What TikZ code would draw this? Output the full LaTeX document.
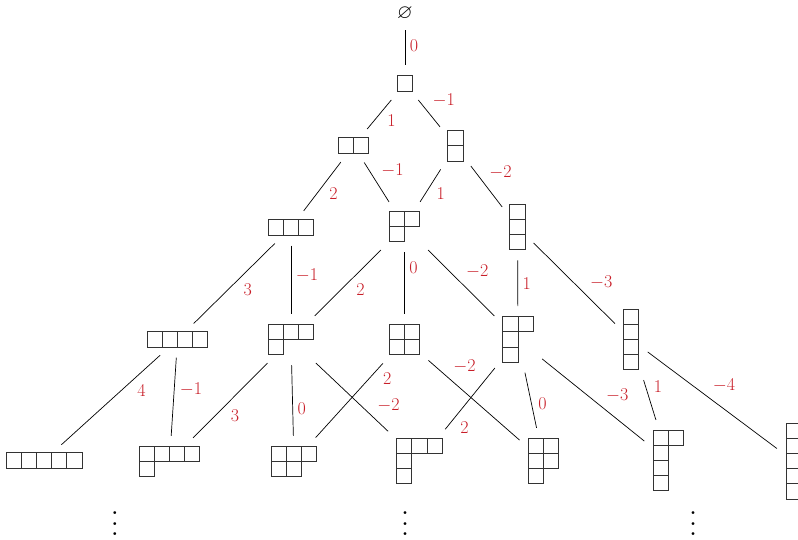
\RequirePackage{fix-cm}
\documentclass[tikz,border=0pt]{standalone}
\usepackage{amsmath,amssymb}
\usepackage{graphicx}
\usepackage{xcolor}
\definecolor{labred}{RGB}{200,30,40}
\newcommand{\yng}[1]{%
  \begin{tikzpicture}[x=15.2pt,y=-15.2pt,line width=1pt,color=black!80]
    \foreach \len [count=\row] in {#1}
      \foreach \col in {1,...,\len}
        \draw (\col-1,\row-1) rectangle (\col,\row);
  \end{tikzpicture}}

\begin{document}
\begin{tikzpicture}[
  x=1pt, y=-1pt,
  yd/.style={inner sep=3pt, outer sep=0pt},
  ln/.style={line width=0.7pt, shorten <=7pt, shorten >=7pt},
  lab/.style={auto, font=\fontsize{18}{21}\selectfont, text=labred, inner sep=4.5pt},
  dts/.style={anchor=north, inner sep=0pt}
]
\useasboundingbox (0,0) rectangle (798,540);

\node[yd, font=\fontsize{20}{24}\selectfont] (e0) at (405,13.5) {$\varnothing$};
\node[yd] (p1) at (405,83.5) {\yng{1}};

\node[yd] (p2)  at (353.5,145.5) {\yng{2}};
\node[yd] (p11) at (455.5,146) {\yng{1,1}};

\node[yd] (p3)   at (291,227.5) {\yng{3}};
\node[yd] (p21)  at (404.5,226.5) {\yng{2,1}};
\node[yd] (p111) at (517.5,227) {\yng{1,1,1}};

\node[yd] (p4)    at (177.5,339.5) {\yng{4}};
\node[yd] (p31)   at (291,339.5) {\yng{3,1}};
\node[yd] (p22)   at (404.5,339.5) {\yng{2,2}};
\node[yd] (p211)  at (518,339.5) {\yng{2,1,1}};
\node[yd] (p1111) at (631,339.5) {\yng{1,1,1,1}};

\node[yd] (p5)     at (44,460.5) {\yng{5}};
\node[yd] (p41)    at (169.5,461.5) {\yng{4,1}};
\node[yd] (p32)    at (294,461.5) {\yng{3,2}};
\node[yd] (p311)   at (419.5,461) {\yng{3,1,1}};
\node[yd] (p221)   at (543.5,461) {\yng{2,2,1}};
\node[yd] (p2111)  at (668.5,460.5) {\yng{2,1,1,1}};
\node[yd] (p11111) at (793.6,461) {\yng{1,1,1,1,1}};

\node[dts] (dotsA) at (115,495) {\scalebox{2.7}{$\vdots$}};
\node[dts] (dotsB) at (405,495) {\scalebox{2.7}{$\vdots$}};
\node[dts] (dotsC) at (693,495) {\scalebox{2.7}{$\vdots$}};

\draw[ln] (e0) -- (p1) node[lab,pos=0.45]{$0$};

\draw[ln] (p1) -- (p2)  node[lab,pos=0.4]{$1$};
\draw[ln] (p1) -- (p11) node[lab,pos=0.45]{$-1$};

\draw[ln] (p2)  -- (p3)   node[lab,pos=0.45]{$2$};
\draw[ln] (p2)  -- (p21)  node[lab,pos=0.5]{$-1$};
\draw[ln] (p11) -- (p21)  node[lab,pos=0.45]{$1$};
\draw[ln] (p11) -- (p111) node[lab,pos=0.45]{$-2$};

\draw[ln] (p3)   -- (p4)    node[lab,pos=0.45]{$3$};
\draw[ln] (p3)   -- (p31)   node[lab,pos=0.45]{$-1$};
\draw[ln] (p21)  -- (p31)   node[lab,pos=0.45]{$2$};
\draw[ln] (p21)  -- (p22)   node[lab,pos=0.3]{$0$};
\draw[ln] (p21)  -- (p211)  node[lab,pos=0.5]{$-2$};
\draw[ln] (p111) -- (p211)  node[lab,pos=0.5]{$1$};
\draw[ln] (p111) -- (p1111) node[lab,pos=0.62]{$-3$};

\draw[ln] (p4)    -- (p5)     node[lab,pos=0.3]{$4$};
\draw[ln] (p4)    -- (p41)    node[lab,pos=0.3]{$-1$};
\draw[ln] (p31)   -- (p41)    node[lab,pos=0.55]{$3$};
\draw[ln] (p31)   -- (p32)    node[lab,pos=0.6]{$0$};
\draw[ln] (p31)   -- (p311)   node[lab,pos=0.75]{$-2$};
\draw[ln] (p22)   -- (p32)    node[lab,pos=0.12]{$2$};
\draw[ln] (p22)   -- (p221)   node[lab,pos=0.25]{$-2$};
\draw[ln] (p211)  -- (p311)   node[lab,pos=0.75]{$2$};
\draw[ln] (p211)  -- (p221)   node[lab,pos=0.7]{$0$};
\draw[ln] (p211)  -- (p2111)  node[lab,pos=0.57]{$-3$};
\draw[ln] (p1111) -- (p2111)  node[lab,pos=0.45]{$1$};
\draw[ln] (p1111) -- (p11111) node[lab,pos=0.47]{$-4$};
\end{tikzpicture}
\end{document}
